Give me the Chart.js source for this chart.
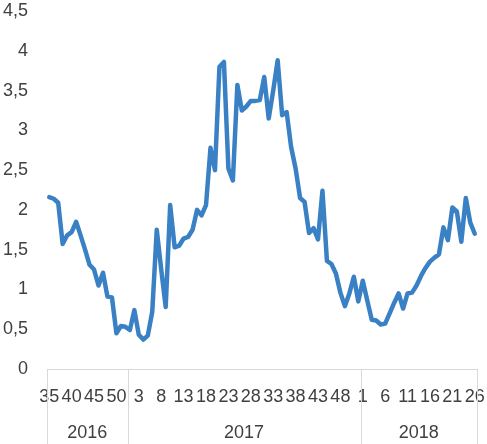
<!DOCTYPE html>
<html>
<head>
<meta charset="utf-8">
<script src="https://cdn.jsdelivr.net/npm/chart.js@4"></script>
<style>
  html, body { margin: 0; padding: 0; background: #fff; }
  #wrap { width: 487px; height: 444px; }
</style>
</head>
<body>
<div id="wrap"><canvas id="chart"></canvas></div>
<script>
// week numbers per year (x categories)
const weeks2016 = [35, 36, 37, 38, 39, 40, 41, 42, 43, 44, 45, 46, 47, 48, 49, 50, 51, 52];
const weeks2017 = [1, 2, 3, 4, 5, 6, 7, 8, 9, 10, 11, 12, 13, 14, 15, 16, 17, 18, 19, 20, 21, 22, 23, 24, 25, 26,
  27, 28, 29, 30, 31, 32, 33, 34, 35, 36, 37, 38, 39, 40, 41, 42, 43, 44, 45, 46, 47, 48, 49, 50, 51, 52];
const weeks2018 = [1, 2, 3, 4, 5, 6, 7, 8, 9, 10, 11, 12, 13, 14, 15, 16, 17, 18, 19, 20, 21, 22, 23, 24, 25, 26];
const years = ['2016', '2017', '2018'];

// values
const values2016 = [2.16, 2.14, 2.09, 1.57, 1.68, 1.72, 1.85, 1.68, 1.50, 1.31, 1.25, 1.05, 1.21, 0.91, 0.90, 0.45, 0.54, 0.53];
const values2017 = [0.49, 0.74, 0.43, 0.37, 0.42, 0.72, 1.75, 1.25, 0.78, 2.06, 1.53, 1.55, 1.64, 1.66, 1.75, 2.00,
  1.93, 2.06, 2.78, 2.50, 3.80, 3.86, 2.52, 2.37, 3.57, 3.25, 3.30, 3.37, 3.37, 3.38, 3.67, 3.15, 3.50, 3.88, 3.19,
  3.23, 2.79, 2.52, 2.15, 2.10, 1.71, 1.77, 1.63, 2.24, 1.36, 1.32, 1.20, 0.96, 0.79, 0.95, 1.16, 0.85];
const values2018 = [1.11, 0.86, 0.62, 0.61, 0.56, 0.57, 0.70, 0.83, 0.95, 0.76, 0.95, 0.96, 1.05, 1.17, 1.27, 1.35,
  1.40, 1.44, 1.78, 1.62, 2.03, 1.98, 1.60, 2.15, 1.84, 1.70];

const yTicks = [0, 0.5, 1, 1.5, 2, 2.5, 3, 3.5, 4, 4.5];

const weekGroups = [weeks2016, weeks2017, weeks2018];
const labels = [].concat(weeks2016, weeks2017, weeks2018).map(String);
const data = [].concat(values2016, values2017, values2018);

const textColor = '#404040';
const lineGray = '#d9d9d9';
const font = { family: 'Liberation Sans', size: 18 };

// second row of the category axis: years with separators
const yearRow = {
  id: 'yearRow',
  afterDraw(chart) {
    const x = chart.scales.x;
    const ctx = chart.ctx;
    const half = (x.getPixelForValue(1) - x.getPixelForValue(0)) / 2;
    const top = x.top;
    const bottom = chart.height;
    ctx.save();
    ctx.strokeStyle = lineGray;
    ctx.lineWidth = 1;
    ctx.fillStyle = textColor;
    ctx.font = font.size + 'px ' + font.family;
    ctx.textAlign = 'center';
    ctx.textBaseline = 'middle';
    let start = 0;
    weekGroups.forEach((g, k) => {
      const left = x.getPixelForValue(start) - half;
      const right = x.getPixelForValue(start + g.length - 1) + half;
      [left, right].forEach(px => {
        ctx.beginPath();
        ctx.moveTo(Math.round(px) + 0.5, top);
        ctx.lineTo(Math.round(px) + 0.5, bottom);
        ctx.stroke();
      });
      ctx.fillText(years[k], (left + right) / 2, 433);
      start += g.length;
    });
    ctx.restore();
  }
};

new Chart(document.getElementById('chart'), {
  type: 'line',
  data: {
    labels: labels,
    datasets: [{
      data: data,
      borderColor: '#3a80c4',
      borderWidth: 4.5,
      borderJoinStyle: 'round',
      borderCapStyle: 'round',
      pointRadius: 0,
      tension: 0,
      fill: false
    }]
  },
  options: {
    responsive: true,
    maintainAspectRatio: false,
    animation: false,
    layout: { padding: { top: 11, right: 10, left: 0, bottom: 0 } },
    plugins: { legend: { display: false }, tooltip: { enabled: false } },
    scales: {
      x: {
        type: 'category',
        offset: true,
        grid: { display: false, drawTicks: false },
        border: { display: true, color: lineGray, width: 1 },
        ticks: {
          autoSkip: false,
          maxRotation: 0,
          minRotation: 0,
          padding: 17,
          color: textColor,
          font: font,
          callback: (v, i) => (i % 5 === 0 ? labels[i] : '')
        },
        afterFit: s => { s.height = 75; s.paddingLeft = 0; s.paddingRight = 0; }
      },
      y: {
        min: 0,
        max: 4.5,
        afterBuildTicks: s => { s.ticks = yTicks.map(v => ({ value: v })); },
        grid: { display: false, drawTicks: false },
        border: { display: false },
        ticks: {
          padding: 19,
          color: textColor,
          font: font,
          callback: v => String(v).replace('.', ',')
        },
        afterFit: s => { s.width = 47; s.paddingTop = 0; s.paddingBottom = 0; }
      }
    }
  },
  plugins: [yearRow]
});
</script>
</body>
</html>
